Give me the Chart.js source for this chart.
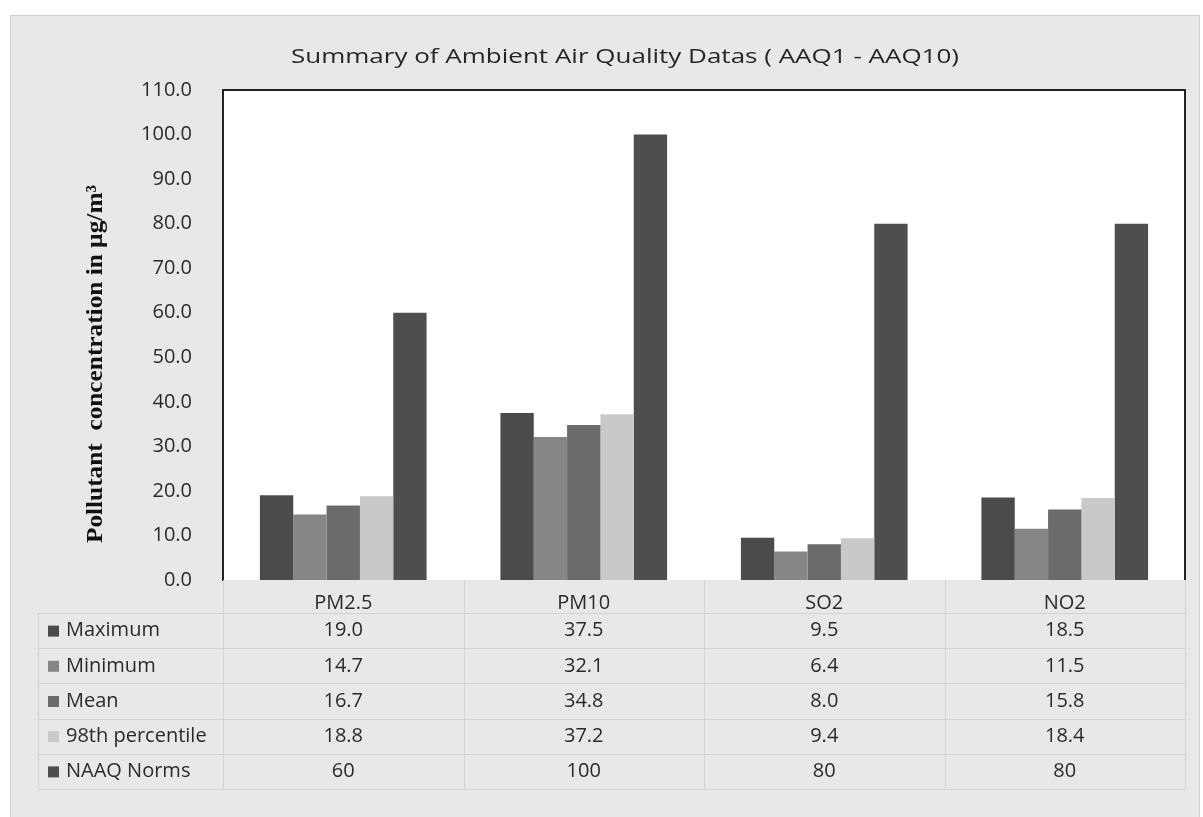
<!DOCTYPE html>
<html>
<head>
<meta charset="utf-8">
<script src="https://cdn.jsdelivr.net/npm/chart.js@4.4.1/dist/chart.umd.min.js"></script>
<style>
html, body { margin: 0; padding: 0; background: #fff; }
</style>
</head>
<body>
<canvas id="aaqChart" width="1203" height="817"></canvas>
<script>
const categories = ['PM2.5', 'PM10', 'SO2', 'NO2']
const maximum = [19.0, 37.5, 9.5, 18.5]
const minimum = [14.7, 32.1, 6.4, 11.5]
const mean = [16.7, 34.8, 8.0, 15.8]
const percentile98 = [18.8, 37.2, 9.4, 18.4]
const naaqNorms = [60, 100, 80, 80]
const seriesNames = ['Maximum', 'Minimum', 'Mean', '98th percentile', 'NAAQ Norms']
const seriesColors = ['#4b4b4b', '#868686', '#6b6b6b', '#c9c9c9', '#4e4e4e']
const tableDigits = [1, 1, 1, 1, 0]
const yTicks = [0, 10, 20, 30, 40, 50, 60, 70, 80, 90, 100, 110]

const seriesValues = [maximum, minimum, mean, percentile98, naaqNorms]
const chartTitle = 'Summary of Ambient Air Quality Datas ( AAQ1 - AAQ10)'
const yTitle = 'Pollutant  concentration in \u00b5g/m\u00b3'
const textFont = 'Open Sans'

// frame, white plot area, borders, title and the data table under the bars
const tablePlugin = {
	id: 'tablePlugin',
	beforeDraw(chart) {
		const ctx = chart.ctx
		const area = chart.chartArea
		ctx.save()
		ctx.fillStyle = '#ffffff'
		ctx.fillRect(0, 0, chart.width, chart.height)
		ctx.fillStyle = '#e8e8e8'
		ctx.fillRect(10, 15, 1190, chart.height - 15)
		ctx.strokeStyle = '#cfcfcf'
		ctx.lineWidth = 1
		ctx.strokeRect(10.5, 15.5, 1189, chart.height)
		ctx.fillStyle = '#ffffff'
		ctx.fillRect(area.left, area.top, area.right - area.left, area.bottom - area.top)
		ctx.restore()
	},
	afterDraw(chart) {
		const ctx = chart.ctx
		const area = chart.chartArea
		const xScale = chart.scales.x
		const catW = (area.right - area.left) / categories.length
		const headerH = 33
		const rowH = 35.2
		const tableTop = area.bottom + headerH
		const tableBottom = tableTop + rowH * seriesNames.length
		const tableLeft = 38

		ctx.save()
		// plot border (top, right)
		ctx.strokeStyle = '#222'
		ctx.lineWidth = 2
		ctx.beginPath()
		ctx.moveTo(area.left, area.top)
		ctx.lineTo(area.right, area.top)
		ctx.lineTo(area.right, area.bottom)
		ctx.stroke()

		// table grid
		ctx.strokeStyle = '#d2d2d2'
		ctx.lineWidth = 1
		ctx.beginPath()
		for (let i = 0; i <= seriesNames.length; i++) {
			const y = Math.round(tableTop + i * rowH) + 0.5
			ctx.moveTo(tableLeft, y)
			ctx.lineTo(area.right, y)
		}
		ctx.moveTo(tableLeft + 0.5, tableTop)
		ctx.lineTo(tableLeft + 0.5, tableBottom)
		for (let j = 0; j <= categories.length; j++) {
			const x = Math.round(area.left + j * catW) + 0.5
			ctx.moveTo(x, area.bottom)
			ctx.lineTo(x, tableBottom)
		}
		ctx.stroke()

		// row labels with legend keys, and values
		ctx.font = '20px "' + textFont + '"'
		ctx.textBaseline = 'middle'
		for (let i = 0; i < seriesNames.length; i++) {
			const cy = tableTop + (i + 0.5) * rowH
			ctx.fillStyle = seriesColors[i]
			ctx.fillRect(48, cy - 5, 11, 11)
			ctx.fillStyle = '#2a2a2a'
			ctx.textAlign = 'left'
			ctx.fillText(seriesNames[i], 66, cy)
			ctx.textAlign = 'center'
			for (let j = 0; j < categories.length; j++) {
				const x = xScale.getPixelForValue(j)
				ctx.fillText(seriesValues[i][j].toFixed(tableDigits[i]), x, cy)
			}
		}
		ctx.restore()

		// chart title, stretched wide like the original
		ctx.save()
		ctx.translate(625, 57)
		ctx.scale(1.3, 1)
		ctx.font = '20px "' + textFont + '"'
		ctx.fillStyle = '#262626'
		ctx.textAlign = 'center'
		ctx.textBaseline = 'middle'
		ctx.fillText(chartTitle, 0, 0)
		ctx.restore()

		// y axis title
		ctx.save()
		ctx.translate(96, 364)
		ctx.rotate(-Math.PI / 2)
		ctx.scale(1.1, 1)
		ctx.textAlign = 'center'
		ctx.textBaseline = 'middle'
		ctx.fillStyle = '#111'
		ctx.font = 'bold 23px "Liberation Serif"'
		ctx.fillText(yTitle, 0, 0)
		ctx.restore()
	}
}

const datasets = []
seriesNames.forEach((name, i) => {
	datasets.push({
		label: name,
		data: seriesValues[i],
		backgroundColor: seriesColors[i],
		barPercentage: 1,
		categoryPercentage: 0.693
	})
})

new Chart(document.getElementById('aaqChart'), {
	type: 'bar',
	data: {
		labels: categories,
		datasets
	},
	options: {
		responsive: false,
		animation: false,
		devicePixelRatio: 1,
		layout: {
			padding: { top: 90, right: 18, bottom: 0, left: 0 }
		},
		plugins: {
			legend: { display: false },
			tooltip: { enabled: false },
			title: { display: false }
		},
		scales: {
			x: {
				grid: { display: false },
				border: { display: false },
				ticks: {
					color: '#2a2a2a',
					font: { family: textFont, size: 20 },
					padding: 3
				},
				afterFit: (scale) => { scale.height = 237 }
			},
			y: {
				min: 0,
				max: 110,
				grid: { display: false },
				border: { display: true, color: '#222', width: 2 },
				afterBuildTicks: (scale) => {
					scale.ticks = yTicks.map((v) => ({ value: v }))
				},
				ticks: {
					color: '#2a2a2a',
					font: { family: textFont, size: 20 },
					padding: 23,
					callback: (v) => Number(v).toFixed(1)
				},
				afterFit: (scale) => { scale.width = 223 }
			}
		}
	},
	plugins: [tablePlugin]
})
</script>
</body>
</html>
